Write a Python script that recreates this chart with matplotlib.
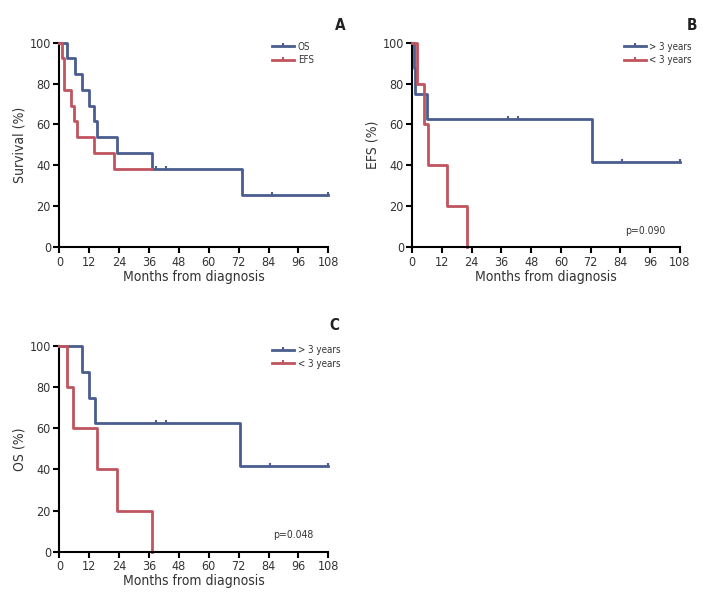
import matplotlib
matplotlib.use("Agg")
import matplotlib.pyplot as plt
from matplotlib.lines import Line2D

plt.rcParams["font.family"] = ["DejaVu Sans"]
plt.rcParams["font.stretch"] = "condensed"

BLUE = "#4a5d8e"
RED = "#c0545f"
TXT = "#333333"

# panel A: whole cohort, OS and EFS
a_os_t = [0, 3, 6.3, 9, 12, 14, 15, 23, 37.2, 73.5, 108]
a_os_s = [100, 92.3, 84.6, 76.9, 69.2, 61.5, 53.8, 46.2, 38.5, 25.6, 25.6]
a_os_cens_t = [39, 43, 85.3, 108]
a_os_cens_s = [38.5, 38.5, 25.6, 25.6]
a_efs_t = [0, 1.2, 1.8, 4.7, 5.9, 7, 14, 21.8, 37.2]
a_efs_s = [100, 92.3, 76.9, 69.2, 61.5, 53.8, 46.2, 38.5, 38.5]

# panel B: EFS by age group
b_old_t = [0, 0.5, 1.2, 5.8, 72.6, 108]
b_old_s = [100, 87.5, 75, 62.5, 41.7, 41.7]
b_old_cens_t = [38.6, 42.6, 84.7, 108]
b_old_cens_s = [62.5, 62.5, 41.7, 41.7]
b_young_t = [0, 2, 4.6, 6.4, 13.9, 21.9]
b_young_s = [100, 80, 60, 40, 20, 0]

# panel C: OS by age group
c_old_t = [0, 9, 12, 14.2, 72.6, 108]
c_old_s = [100, 87.5, 75, 62.5, 41.7, 41.7]
c_old_cens_t = [38.7, 42.7, 84.6, 107.8]
c_old_cens_s = [62.5, 62.5, 41.7, 41.7]
c_young_t = [0, 2.9, 5.4, 15, 23, 37]
c_young_s = [100, 80, 60, 40, 20, 0]

x_ticks = list(range(0, 109, 12))
y_ticks = [0, 20, 40, 60, 80, 100]

TICK_UP = [(0, 0), (0, 1)]


def km(ax, t, s, color, cens_t=None, cens_s=None):
    ax.step(t, s, where="post", color=color, lw=2, clip_on=False, zorder=3)
    if cens_t:
        ax.plot(cens_t, cens_s, ls="none", marker=TICK_UP, ms=5, mew=1.5,
                color=color, clip_on=False, zorder=3)


def style(ax, ylabel, handles, labels, pval=None):
    ax.set_xlim(0, 108)
    ax.set_ylim(0, 100)
    ax.set_xticks(x_ticks)
    ax.set_yticks(y_ticks)
    for sp in ["top", "right"]:
        ax.spines[sp].set_visible(False)
    for sp in ["left", "bottom"]:
        ax.spines[sp].set_linewidth(1.5)
        ax.spines[sp].set_color("black")
    ax.spines["bottom"].set_zorder(4)
    ax.tick_params(direction="out", length=4, width=1.5, labelsize=9,
                   labelcolor=TXT, pad=2)
    ax.set_xlabel("Months from diagnosis", fontsize=10, color=TXT, labelpad=1)
    ax.set_ylabel(ylabel, fontsize=10, color=TXT, labelpad=2)
    leg = ax.legend(handles, labels, loc="upper left", bbox_to_anchor=(0.79, 1.005),
                    frameon=False, fontsize=7, handlelength=2.3, numpoints=1,
                    handletextpad=0.35, labelspacing=0.35, borderaxespad=0,
                    borderpad=0)
    for t in leg.get_texts():
        t.set_color(TXT)
    if pval:
        ax.text(0.869, 0.081, pval, transform=ax.transAxes, fontsize=7.5,
                ha="center", va="center", color=TXT)


def handle(color):
    return Line2D([], [], color=color, lw=2, marker=TICK_UP, ms=5, mew=1.5)


fig = plt.figure(figsize=(7.08, 5.99), dpi=100)
ax_a = fig.add_axes([0.0838, 0.587, 0.380, 0.342])
ax_b = fig.add_axes([0.5823, 0.587, 0.378, 0.342])
ax_c = fig.add_axes([0.0838, 0.079, 0.380, 0.343])

km(ax_a, a_os_t, a_os_s, BLUE, a_os_cens_t, a_os_cens_s)
km(ax_a, a_efs_t, a_efs_s, RED)
style(ax_a, "Survival (%)", [handle(BLUE), handle(RED)], ["OS", "EFS"])

km(ax_b, b_old_t, b_old_s, BLUE, b_old_cens_t, b_old_cens_s)
km(ax_b, b_young_t, b_young_s, RED)
style(ax_b, "EFS (%)", [handle(BLUE), handle(RED)],
      ["> 3 years", "< 3 years"], pval="p=0.090")

km(ax_c, c_old_t, c_old_s, BLUE, c_old_cens_t, c_old_cens_s)
km(ax_c, c_young_t, c_young_s, RED)
style(ax_c, "OS (%)", [handle(BLUE), handle(RED)],
      ["> 3 years", "< 3 years"], pval="p=0.048")

for letter, x, y in [("A", 340, 25), ("B", 692, 25), ("C", 334, 325)]:
    fig.text(x / 708, 1 - y / 599, letter, fontsize=11, fontweight="bold",
             ha="center", va="center", color="#222222")

fig.savefig("out.png", dpi=100)
